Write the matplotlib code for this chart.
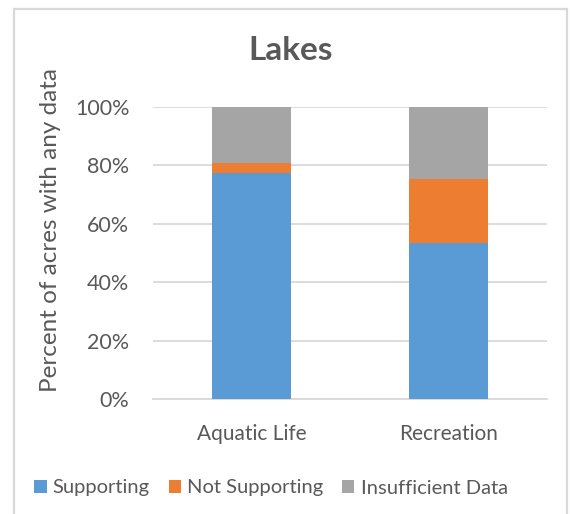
import numpy as np
import matplotlib.pyplot as plt
from matplotlib.patches import Rectangle
from matplotlib.ticker import PercentFormatter

plt.rcParams['font.family'] = ['Lato', 'DejaVu Sans']

categories = ['Aquatic Life', 'Recreation']
supporting = [77.3, 53.4]
not_supporting = [3.6, 21.9]
insufficient = [19.1, 24.7]

col_sup = '#5B9BD5'
col_not = '#ED7D31'
col_ins = '#A5A5A5'
txt = '#595959'

W, H = 570, 514
fig = plt.figure(figsize=(W / 100, H / 100), dpi=100)
ax = fig.add_axes([153 / W, 1 - 399 / H, (547 - 153) / W, (399 - 107) / H])

# frame around the chart
fig.patches.append(Rectangle((14 / W, -0.1), (567 - 14) / W, 1.1 - 9 / H,
                             transform=fig.transFigure, fill=False,
                             edgecolor='#d9d9d9', linewidth=1.6))

x = np.arange(len(categories))
w = 0.396
b1 = np.array(supporting)
b2 = b1 + np.array(not_supporting)
ax.bar(x, supporting, w, color=col_sup, label='Supporting', zorder=3)
ax.bar(x, not_supporting, w, bottom=b1, color=col_not, label='Not Supporting', zorder=3)
ax.bar(x, insufficient, w, bottom=b2, color=col_ins, label='Insufficient Data', zorder=3)

ax.set_xlim(-0.5, 1.5)
ax.set_ylim(0, 100)
ax.set_yticks(np.arange(0, 101, 20))
ax.yaxis.set_major_formatter(PercentFormatter(decimals=0))
ax.set_xticks(x)
ax.set_xticklabels(categories)
ax.grid(axis='y', color='#d9d9d9', linewidth=1.3, zorder=0)
for s in ['top', 'right', 'left']:
    ax.spines[s].set_visible(False)
ax.spines['bottom'].set_color('#d9d9d9')
ax.spines['bottom'].set_linewidth(1.3)
ax.tick_params(length=0, labelsize=15.5, colors=txt)
ax.tick_params(axis='y', pad=17)
ax.tick_params(axis='x', pad=18)
ax.tick_params(axis='x', labelsize=15)

fig.text(51 / W, 1 - 230 / H, 'Percent of acres with any data', rotation=90,
         ha='center', va='center', fontsize=17.5, color=txt)
fig.text(291 / W, 1 - 51 / H, 'Lakes', ha='center', va='center',
         fontsize=24, fontweight='bold', color=txt)

fig.legend(loc='center', bbox_to_anchor=(271 / W, 1 - 488 / H), ncol=3,
           frameon=False, fontsize=14.5, handlelength=0.6, handleheight=0.6,
           handletextpad=0.3, columnspacing=0.95, labelcolor=txt)

fig.savefig('out.png', dpi=100)
